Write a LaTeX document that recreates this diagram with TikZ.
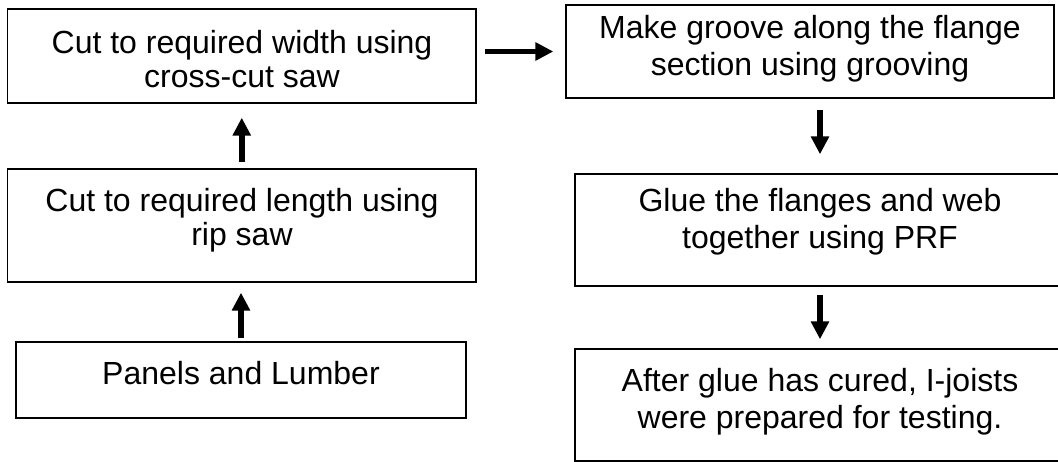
\documentclass[tikz,border=0pt]{standalone}
\usepackage{fontspec}
\setmainfont{Liberation Sans}
\usetikzlibrary{arrows.meta}
\begin{document}
\begin{tikzpicture}[x=1pt,y=-1pt,
  box/.style={draw=black, line width=1.4pt, rectangle, inner sep=0pt},
  txt/.style={inner sep=0pt, align=center, anchor=north},
  lefttxt/.style={txt, font=\fontsize{32}{34}\selectfont},
  righttxt/.style={txt, font=\fontsize{32}{37}\selectfont},
  arr/.style={line width=5.5pt, -{Triangle[length=18pt,width=17.5pt]}}]
\useasboundingbox (0,0) rectangle (1058,462);
\clip (0,0) rectangle (1058,462);
% boxes
\node[box, minimum width=468.5pt, minimum height=94pt] (A) at (241.75,56) {};
\node[box, minimum width=488pt, minimum height=93pt] (B) at (810,51.5) {};
\node[box, minimum width=468.5pt, minimum height=113pt] (C) at (241.75,225.5) {};
\node[box, minimum width=490pt, minimum height=112pt] (D) at (820,230) {};
\node[box, minimum width=450pt, minimum height=76pt] (E) at (241,380) {};
\node[box, minimum width=490pt, minimum height=112pt] (F) at (820,405) {};
% texts
\node[lefttxt] (tA) at (242,30) {Cut to required width using\\cross-cut saw};
\node[lefttxt] (tC) at (242,188) {Cut to required length using\\rip saw};
\node[lefttxt] (tE) at (241,361) {Panels and Lumber};
\node[righttxt] (tB) at (810,15) {Make groove along the flange\\section using grooving};
\node[righttxt] (tD) at (820,188) {Glue the flanges and web\\together using PRF};
\node[righttxt] (tF) at (820,368) {After glue has cured, I-joists\\were prepared for testing.};
% arrows
\draw[arr, shorten <=6pt, shorten >=14pt] (C.north) -- (A.south);
\draw[arr, shorten <=3pt, shorten >=10pt] (E.north) -- (E.north |- C.south);
\draw[arr, shorten <=8pt, shorten >=12pt] (A.east |- B.west) -- (B.west);
\draw[arr, shorten <=11pt, shorten >=19pt] (B.south -| D.north) -- (D.north);
\draw[arr, shorten <=8pt, shorten >=9pt] (D.south) -- (F.north);
\end{tikzpicture}
\end{document}
